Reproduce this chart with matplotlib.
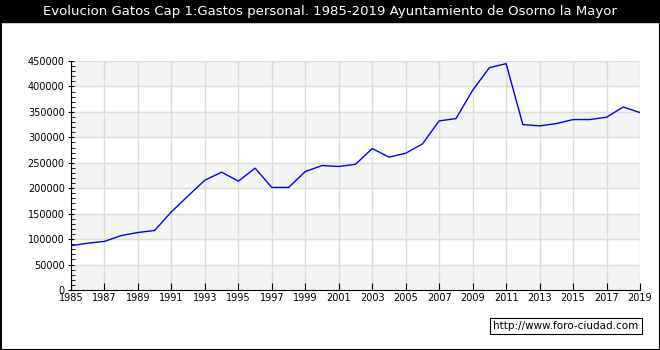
import numpy as np
import matplotlib.pyplot as plt
from matplotlib.patches import Rectangle
from matplotlib.ticker import MultipleLocator

# Gastos de personal (Cap. 1), Osorno la Mayor
years = list(range(1985, 2020))
gastos = [87000, 92000, 95500, 107000, 113000, 117000, 153700, 185000,
          215800, 231500, 213900, 239400, 201500, 201500, 232800, 244600,
          242700, 247000, 278000, 261000, 268800, 287000, 332300, 336800,
          392400, 436900, 444800, 325100, 322500, 327000, 334900, 334900,
          339500, 359700, 348600]

title = "Evolucion Gatos Cap 1:Gastos personal. 1985-2019 Ayuntamiento de Osorno la Mayor"

fig = plt.figure(figsize=(6.6, 3.5), dpi=100)
ax = fig.add_axes([71/660, 60/350, 569/660, 229/350])

# alternate horizontal bands
for lo in range(0, 450000, 100000):
    ax.axhspan(lo, lo + 50000, color='#f4f4f4', zorder=0)

ax.plot(years, gastos, color='#0000ff', lw=1, zorder=3)

ax.set_xlim(1985, 2019)
ax.set_ylim(0, 450000)
ax.set_xticks(range(1985, 2020, 2))
ax.set_yticks(range(0, 450001, 50000))
ax.yaxis.set_minor_locator(MultipleLocator(10000))
ax.grid(True, which='major', color='#dcdcdc', lw=1, zorder=1)
ax.set_axisbelow(True)
ax.tick_params(axis='both', labelsize=7, length=5, direction='inout', color='black', pad=2)
ax.tick_params(axis='y', which='minor', length=3, direction='in')
ax.tick_params(axis='x', direction='in', length=5)
for s in ['top', 'right']:
    ax.spines[s].set_visible(False)

# title bar
fig.patches.append(Rectangle((0, 1 - 22/350), 1, 22/350, transform=fig.transFigure,
                             color='black', zorder=0))
fig.text(0.5, 1 - 11/350, title, color='white', fontsize=9.5, ha='center', va='center')

# outer frame
fig.patches.append(Rectangle((0.5/660, 0.5/350), 659/660, 349/350, transform=fig.transFigure,
                             fill=False, ec='black', lw=1.5, zorder=5))

fig.text(566/660, 1 - 326/350, "http://www.foro-ciudad.com", fontsize=7.5, ha='center', va='center',
         bbox=dict(boxstyle='square,pad=0.3', fc='white', ec='black', lw=0.8))

fig.savefig('out.png', dpi=100)
